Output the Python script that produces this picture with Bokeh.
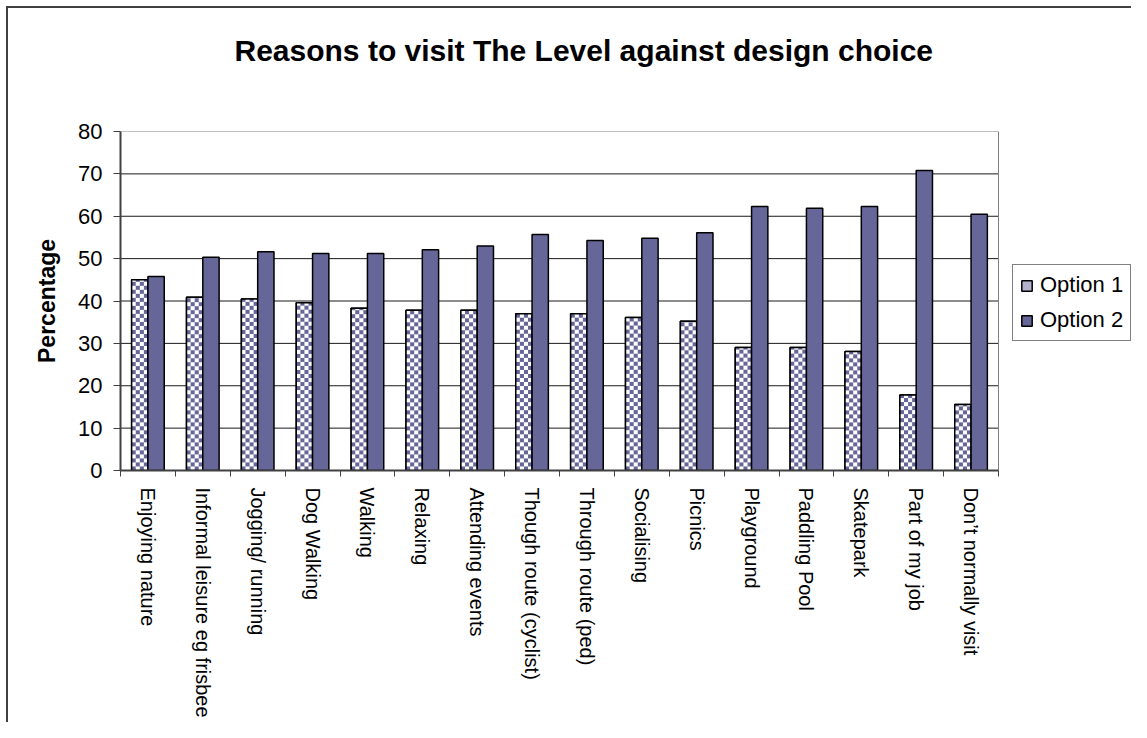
import math
import numpy as np
from bokeh.plotting import figure
from bokeh.models import (ColumnDataSource, Range1d, FixedTicker, Legend, LegendItem, Title)
from bokeh.embed import file_html
from bokeh.resources import INLINE

# ---------------- data ----------------
categories = [
    "Enjoying nature", "Informal leisure eg frisbee", "Jogging/ running", "Dog Walking",
    "Walking", "Relaxing", "Attending events", "Though route (cyclist)",
    "Through route (ped)", "Socialising", "Picnics", "Playground", "Paddling Pool",
    "Skatepark", "Part of my job", "Don\u2019t normally visit",
]
option1 = [45.0, 40.9, 40.5, 39.6, 38.3, 37.8, 37.8, 37.0, 37.0, 36.1, 35.2, 29.0, 29.0, 28.1, 17.8, 15.6]
option2 = [45.8, 50.3, 51.6, 51.2, 51.2, 52.1, 53.0, 55.7, 54.3, 54.8, 56.1, 62.3, 61.9, 62.3, 70.8, 60.5]
series_names = ["Option 1", "Option 2"]
y_ticks = [0, 10, 20, 30, 40, 50, 60, 70, 80]
y_max = 80
title_text = "Reasons to visit The Level against design choice"
y_label = "Percentage"

# ---------------- styles ----------------
FONT = "Liberation Sans"
BAR_COLOR = "#666699"
W, H = 1131, 722
FL, FT, FB = 120, 131, 252          # borders around the frame
PLOT_W = 878                         # width of the bar area in pixels

n = len(categories)
px_x = PLOT_W / n
px_y = (H - FT - FB) / y_max
x_end = (W - FL) / px_x              # frame reaches the right edge; bars use [0, n]

bw = 0.297
centers = [i + 0.5 for i in range(n)]
x1 = [c - bw / 2 for c in centers]
x2 = [c + bw / 2 for c in centers]
src = ColumnDataSource(dict(x1=x1, x2=x2, o1=option1, o2=option2))

p = figure(width=W, height=H, output_backend="svg", toolbar_location=None,
           x_range=Range1d(0, x_end), y_range=Range1d(0, y_max),
           min_border_left=FL, min_border_right=0, min_border_top=FT, min_border_bottom=FB,
           background_fill_color="white", border_fill_color=None)
p.styles = {"box-shadow": "inset 6px 6px 0 0 #ffffff, inset 8px 8px 0 0 #404040",
            "background-color": "#ffffff"}
p.outline_line_color = None
p.xgrid.visible = False
p.ygrid.visible = False

# gridlines and plot-area outline limited to the bar area
grid_y = [t for t in y_ticks if 0 < t < y_max]
p.segment(x0=[0] * len(grid_y), x1=[n] * len(grid_y), y0=grid_y, y1=grid_y,
          line_color="#1a1a1a", line_width=1)
p.segment(x0=[0, n], y0=[y_max, 0], x1=[n, n], y1=[y_max, y_max],
          line_color="#808080", line_width=1)

# legend proxy for Option 1 (hidden beneath the checker images)
r1_leg = p.vbar(x="x1", top="o1", width=bw, source=src, fill_color="#b2b2cc",
                line_color="black", line_width=1.5)

# checkerboard texture for Option 1, rendered as images sized to the bars
w_px = max(1, int(round(bw * px_x)))
BLUE = np.uint32(0xFF996666)
WHITE = np.uint32(0xFFFFFFFF)
imgs = []
for v in option1:
    h_px = max(1, int(round(v * px_y)))
    yy, xx = np.mgrid[0:h_px, 0:w_px]
    cell = ((xx // 4 + yy // 4) % 2 == 0)
    imgs.append(np.where(cell, BLUE, WHITE).astype(np.uint32))
p.image_rgba(image=imgs, x=[c - bw / 2 for c in x1], y=[0] * n,
             dw=[bw] * n, dh=option1)

r1 = p.vbar(x="x1", top="o1", width=bw, source=src, fill_color=None,
            line_color="black", line_width=1.5)
r2 = p.vbar(x="x2", top="o2", width=bw, source=src, fill_color=BAR_COLOR,
            line_color="black", line_width=1.5)

# y axis
ya = p.yaxis[0]
ya.ticker = FixedTicker(ticks=y_ticks)
ya.major_tick_out = 7
ya.major_tick_in = 0
ya.minor_tick_out = 0
ya.minor_tick_in = 0
ya.axis_line_color = "#404040"
ya.axis_line_width = 2
ya.major_tick_line_color = "#404040"
ya.major_label_text_font = FONT
ya.major_label_text_font_size = "22px"
ya.major_label_text_color = "black"
ya.major_label_standoff = 11
ya.axis_label = y_label
ya.axis_label_text_font = FONT
ya.axis_label_text_font_size = "23px"
ya.axis_label_text_font_style = "bold"
ya.axis_label_text_color = "black"
ya.axis_label_standoff = 15

# x axis
xa = p.xaxis[0]
xa.bounds = (0, n)
xa.ticker = FixedTicker(ticks=centers, minor_ticks=list(range(n + 1)))
xa.major_label_overrides = {c: lab for c, lab in zip(centers, categories)}
xa.major_tick_out = 0
xa.major_tick_in = 0
xa.minor_tick_out = 6
xa.minor_tick_in = 0
xa.minor_tick_line_color = "#404040"
xa.axis_line_color = "#404040"
xa.axis_line_width = 2
xa.major_label_orientation = -math.pi / 2
xa.major_label_standoff = 11
xa.major_label_text_font = FONT
xa.major_label_text_font_size = "20px"
xa.major_label_text_color = "black"

# title (a blank spacer title keeps it high above the plot area)
p.add_layout(Title(text=" ", text_font=FONT, text_font_size="12px", standoff=44), "above")
p.add_layout(Title(text=title_text, align="left", offset=114,
                   text_font=FONT, text_font_size="30px", text_font_style="bold",
                   text_color="black"), "above")

legend = Legend(items=[LegendItem(label=series_names[0], renderers=[r1_leg]),
                       LegendItem(label=series_names[1], renderers=[r2])],
                location=(892, 129), orientation="vertical",
                border_line_color="black", border_line_width=1,
                background_fill_color="white", background_fill_alpha=1,
                label_text_font=FONT, label_text_font_size="22px", label_text_color="black",
                glyph_width=13, glyph_height=13, label_standoff=7, label_height=24,
                padding=7, spacing=9, margin=0)
p.add_layout(legend)

open("out.html", "w").write(file_html(p, INLINE))
